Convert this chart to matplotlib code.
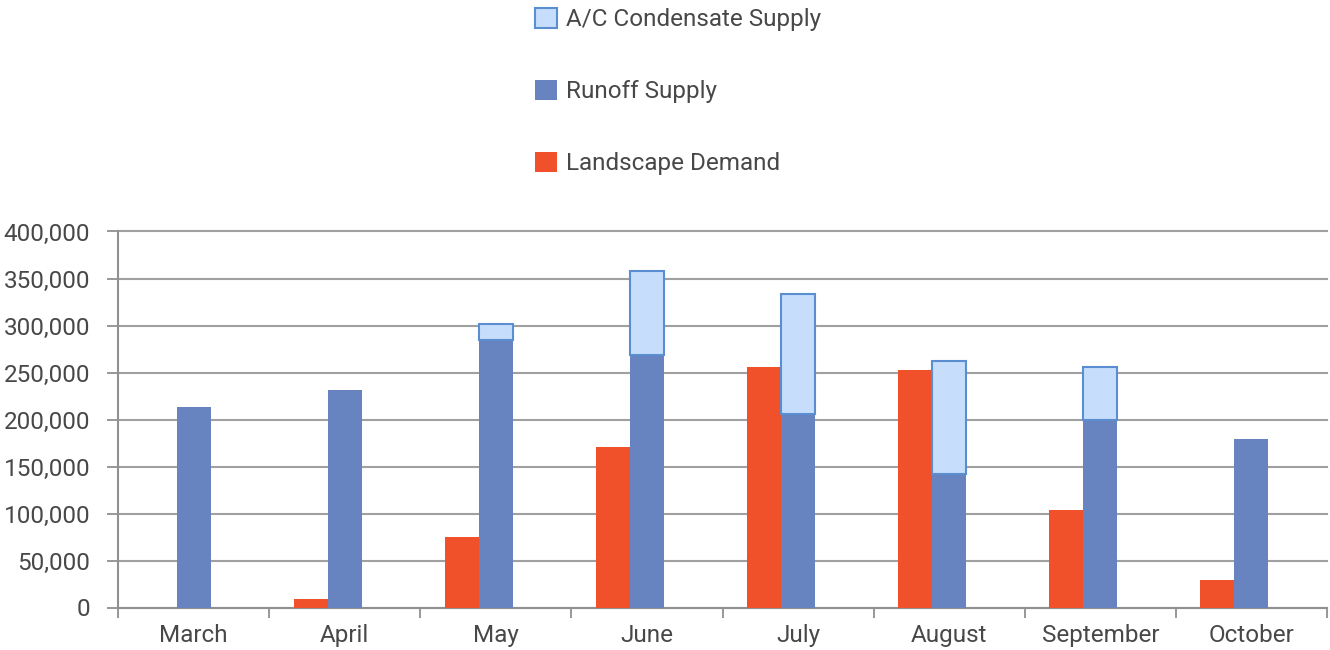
import matplotlib
matplotlib.use("Agg")
import matplotlib.pyplot as plt
import numpy as np
from matplotlib.patches import Patch
from matplotlib.ticker import FuncFormatter, FixedLocator

# monthly water balance (gallons)
months = ["March", "April", "May", "June", "July", "August", "September", "October"]
landscape_demand = [0, 9000, 75000, 171000, 256000, 253000, 104000, 29000]
runoff_supply = [213000, 231000, 285000, 269000, 206000, 142000, 200000, 179000]
condensate_supply = [0, 0, 17000, 89000, 128000, 120000, 56000, 0]

RED = "#F0502A"
BLUE = "#6783C0"
LIGHT = "#C6DEFB"
LIGHT_EDGE = "#5A8ED0"
GRID = "#A0A0A0"
TEXT = "#484848"

plt.rcParams["font.family"] = ["Roboto", "DejaVu Sans"]

fig = plt.figure(figsize=(13.3, 6.5), dpi=100)
ax = fig.add_axes([118 / 1330, 42.5 / 650, 1209 / 1330, 376 / 650])

x = np.arange(len(months))
w = 0.225

ax.bar(x - w, landscape_demand, width=w, color=RED, zorder=3)
ax.bar(x, runoff_supply, width=w, color=BLUE, zorder=3)
cond = np.array(condensate_supply)
mask = cond > 0
ax.bar(x[mask], cond[mask], width=w, bottom=np.array(runoff_supply)[mask],
       color=LIGHT, edgecolor=LIGHT_EDGE, linewidth=1.5, zorder=3)

ax.set_xlim(-0.5, len(months) - 0.5)
ax.set_ylim(0, 400000)
ax.set_yticks(np.arange(0, 400001, 50000))
ax.yaxis.set_major_formatter(FuncFormatter(lambda v, p: f"{int(v):,}"))
ax.grid(axis="y", color=GRID, linewidth=1.5, zorder=0)
for gl in ax.get_ygridlines():
    gl.set_clip_on(False)

ax.set_xticks(x)
ax.set_xticklabels(months)
ax.xaxis.set_minor_locator(FixedLocator(np.arange(-0.5, len(months), 1.0)))
ax.tick_params(axis="x", which="major", length=0, pad=12, labelsize=17.5, labelcolor=TEXT)
ax.tick_params(axis="x", which="minor", length=7, width=1.3, color="#909090")
ax.tick_params(axis="y", length=8, width=1.3, color="#909090", pad=12,
               labelsize=17.5, labelcolor=TEXT)

for side in ["top", "right"]:
    ax.spines[side].set_visible(False)
for side in ["left", "bottom"]:
    ax.spines[side].set_color("#909090")
    ax.spines[side].set_linewidth(1.5)

handles = [
    Patch(facecolor=LIGHT, edgecolor=LIGHT_EDGE, linewidth=1.5, label="A/C Condensate Supply"),
    Patch(facecolor=BLUE, label="Runoff Supply"),
    Patch(facecolor=RED, label="Landscape Demand"),
]
fig.legend(handles=handles, loc="upper left", bbox_to_anchor=(523 / 1330, 1.007),
           frameon=False, fontsize=17.5, labelcolor=TEXT, handlelength=0.9,
           handleheight=0.9, handletextpad=0.35, labelspacing=2.0,
           borderaxespad=0.1)

fig.savefig("out.png", dpi=100)
